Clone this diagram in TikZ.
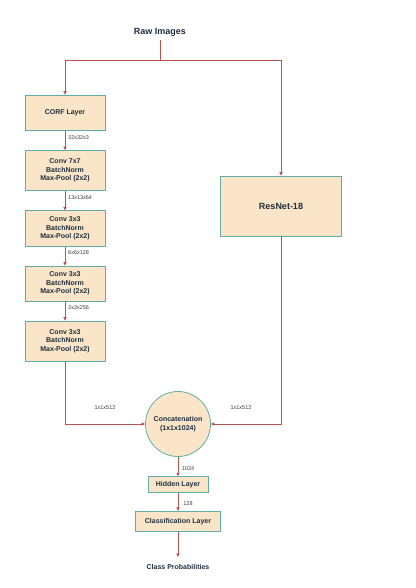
\documentclass[tikz,border=0pt]{standalone}
\usepackage{fontspec}
\setmainfont{Liberation Sans}
\usetikzlibrary{arrows.meta}
\definecolor{boxfill}{HTML}{FBE5C9}
\definecolor{boxline}{HTML}{5FAFA6}
\definecolor{arrowc}{HTML}{B9524E}
\definecolor{txt}{HTML}{1F2F3F}
\definecolor{lbl}{HTML}{3A3A3A}
\tikzset{
  layerbox/.style={draw=boxline, fill=boxfill, line width=0.8pt, inner sep=0pt,
    font=\fontsize{7}{8.7}\selectfont\bfseries, text=txt, align=center},
  conn/.style={draw=arrowc, line width=0.75pt},
  arr/.style={conn, -{Triangle[length=3.5pt,width=3.2pt]}},
  dimlbl/.style={font=\fontsize{5.5}{6}\selectfont, text=lbl, inner sep=0pt},
  titletxt/.style={font=\fontsize{9}{10}\selectfont\bfseries, text=txt}
}
\begin{document}
\begin{tikzpicture}[x=1pt,y=-1pt]
\useasboundingbox (0,0) rectangle (415,588);
\node[titletxt, inner xsep=0pt, inner ysep=3.8pt] (raw) at (160,32) {Raw Images};
\node[layerbox, minimum width=80pt, minimum height=35pt] (corf) at (65,112.5) {CORF Layer};
\node[layerbox, minimum width=80pt, minimum height=40pt] (c1) at (65,170.5) {Conv 7x7\\BatchNorm\\Max-Pool (2x2)};
\node[layerbox, minimum width=80pt, minimum height=35.5pt] (c2) at (65,228.5) {Conv 3x3\\BatchNorm\\Max-Pool (2x2)};
\node[layerbox, minimum width=80pt, minimum height=35pt] (c3) at (65,283.5) {Conv 3x3\\BatchNorm\\Max-Pool (2x2)};
\node[layerbox, minimum width=80pt, minimum height=40pt] (c4) at (65,341) {Conv 3x3\\BatchNorm\\Max-Pool (2x2)};
\node[layerbox, minimum width=121pt, minimum height=60pt, font=\fontsize{9}{10}\selectfont\bfseries] (res) at (281,206) {ResNet-18};
\node[layerbox, circle, minimum size=65pt] (cat) at (178,424) {Concatenation\\(1x1x1024)};
\node[layerbox, minimum width=60pt, minimum height=15.6pt] (hid) at (178,484.5) {Hidden Layer};
\node[layerbox, minimum width=85pt, minimum height=20.4pt] (cls) at (178,521.5) {Classification Layer};
\node[font=\fontsize{7}{8}\selectfont\bfseries, text=txt, inner xsep=0pt, inner ysep=7.3pt] (prob) at (178,567) {Class Probabilities};
\coordinate (split) at (160,60);
\draw[conn] (raw.south) -- (split);
\draw[arr] (split) -| (corf.north);
\draw[arr] (split) -| (res.north);
\draw[arr] (corf) -- (c1);
\draw[arr] (c1) -- (c2);
\draw[arr] (c2) -- (c3);
\draw[arr] (c3) -- (c4);
\draw[arr] (c4.south) |- (cat.west);
\draw[arr] (res.south) |- (cat.east);
\draw[arr] (cat) -- (hid);
\draw[arr] (hid) -- (cls);
\draw[arr] (cls) -- (prob);
\node[dimlbl, anchor=west] (l1) at (68,138) {32x32x3};
\node[dimlbl, anchor=west] (l2) at (68,198) {13x13x64};
\node[dimlbl, anchor=west] (l3) at (68,253) {6x6x128};
\node[dimlbl, anchor=west] (l4) at (68,308) {3x3x256};
\node[dimlbl] (l5) at (105,408) {1x1x512};
\node[dimlbl] (l6) at (241,408) {1x1x512};
\node[dimlbl] (l7) at (188,469) {1024};
\node[dimlbl] (l8) at (188,504) {128};
\end{tikzpicture}
\end{document}
